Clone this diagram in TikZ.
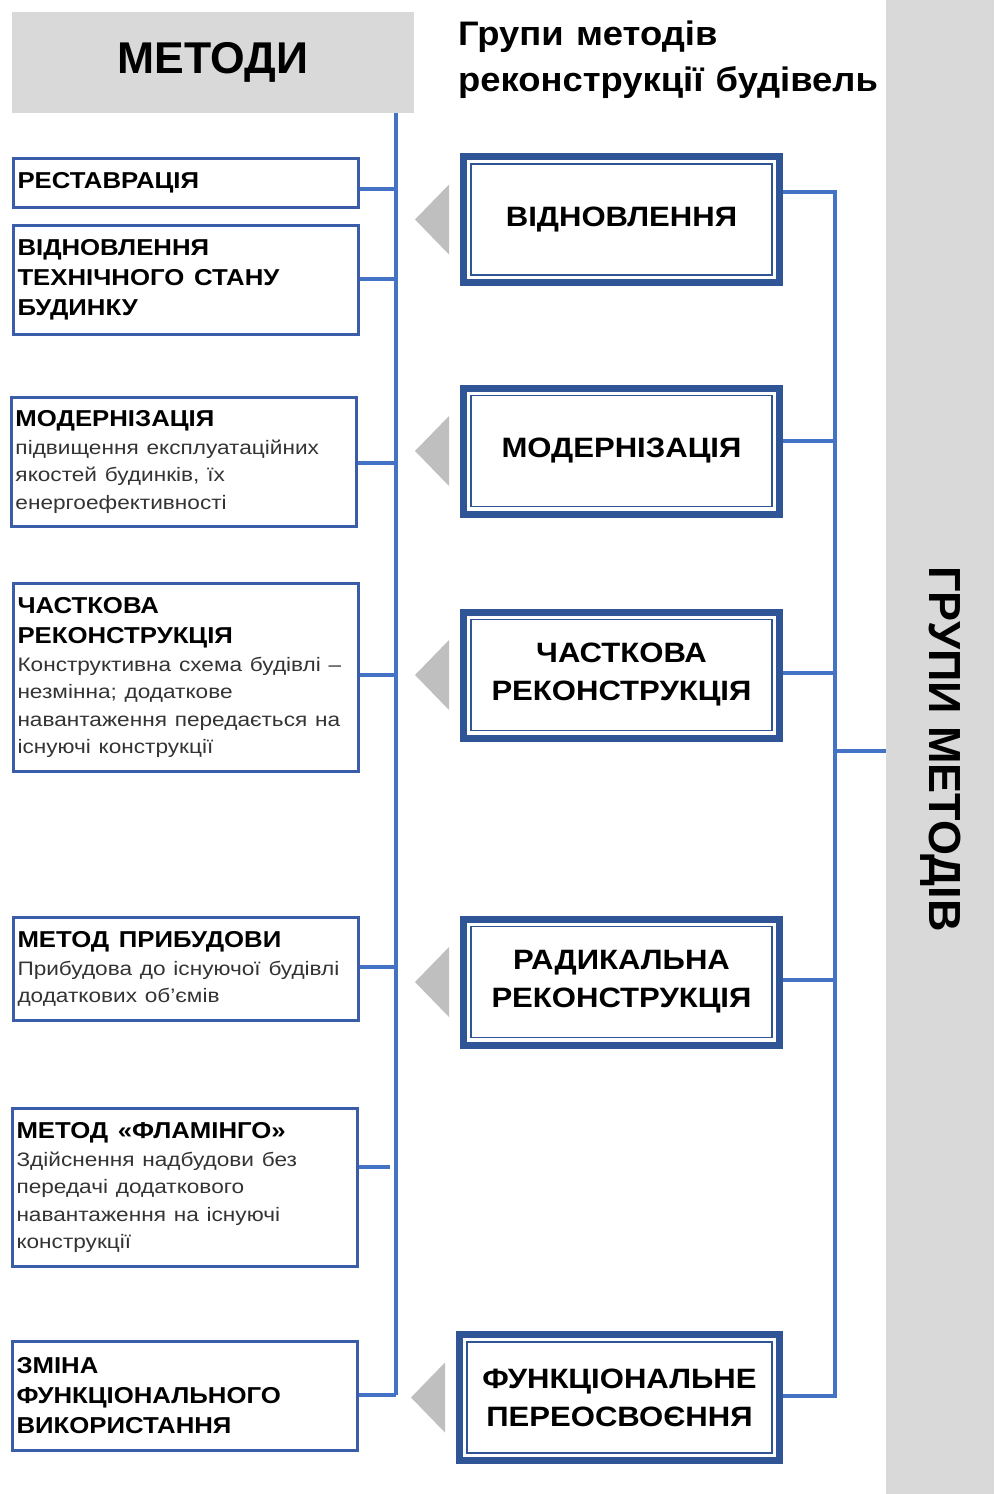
\documentclass[tikz,border=0pt]{standalone}
\usepackage{fontspec}
\setmainfont{Liberation Sans}
\newfontfamily\fsTitle{Liberation Sans}[FakeStretch=1.12]
\newfontfamily\fsDesc{Liberation Sans}[FakeStretch=1.16]
\newfontfamily\fsRight{Liberation Sans}[FakeStretch=1.11]
\newfontfamily\fsHead{Liberation Sans}[FakeStretch=1.07]
\definecolor{gbox}{HTML}{D9D9D9}
\definecolor{conncol}{HTML}{4472C4}
\definecolor{lblue}{HTML}{3B5CA8}
\definecolor{dblue}{HTML}{2F5597}
\definecolor{tricol}{HTML}{BFBFBF}
\definecolor{desccol}{HTML}{333333}
\newcommand{\tfont}{\fsTitle\fontsize{23}{30}\selectfont\bfseries\color{black}\spaceskip=0.42em plus 0.1em\relax}
\newcommand{\dfont}{\fsDesc\fontsize{19.5}{27.5}\selectfont\mdseries\color{desccol}\spaceskip=0.4em plus 0.1em\relax}
\newcommand{\hfont}{\fsHead\fontsize{34}{46}\selectfont\bfseries\spaceskip=0.36em\relax}
\begin{document}
\begin{tikzpicture}[x=1pt,y=-1pt,
  lbox/.style={draw=lblue, line width=3pt, text width=336pt, inner xsep=4.5pt, inner ysep=0pt, align=left},
  rbox/.style={draw=dblue, line width=7pt, minimum width=316pt, minimum height=126pt, inner sep=0pt, align=center, font=\fsRight\fontsize{28}{38}\selectfont\bfseries},
  conn/.style={draw=conncol, line width=3.5pt},
  tri/.style={fill=tricol, draw=none}
]
\useasboundingbox (0,0) rectangle (994,1494);

% header boxes
\node[fill=gbox, minimum width=402pt, minimum height=101pt, inner sep=0pt, font=\fontsize{44.5}{50}\selectfont\bfseries] (metody) at (213,62.5) {МЕТОДИ};
\node[anchor=base west, inner sep=0pt] (title1) at (458,45) {\hfont Групи методів};
\node[anchor=base west, inner sep=0pt] (title2) at (458,91) {\hfont реконструкції будівель};

\node[fill=gbox, minimum width=108pt, minimum height=1494pt, inner sep=0pt] (band) at (940,747) {};
\node[rotate=-90, inner sep=0pt, font=\fontsize{45}{50}\selectfont\bfseries] (bandtext) at (941,749) {ГРУПИ МЕТОДІВ};

% left boxes
\node[lbox, minimum height=49pt] (l1) at (185.5,183) {{\tfont РЕСТАВРАЦІЯ\par}};
\node[lbox, minimum height=109pt] (l2) at (185.5,280) {{\tfont ВІДНОВЛЕННЯ\\ТЕХНІЧНОГО СТАНУ\\БУДИНКУ\par}};
\node[lbox, minimum height=129pt] (l3) at (183.5,462) {{\tfont МОДЕРНІЗАЦІЯ\par}{\dfont підвищення експлуатаційних\\якостей будинків, їх\\енергоефективності\par}};
\node[lbox, minimum height=188pt] (l4) at (185.5,677.5) {{\tfont ЧАСТКОВА\\РЕКОНСТРУКЦІЯ\par}{\dfont Конструктивна схема будівлі –\\незмінна; додаткове\\навантаження передається на\\існуючі конструкції\par}};
\node[lbox, minimum height=103pt] (l5) at (185.5,969) {{\tfont МЕТОД ПРИБУДОВИ\par}{\dfont Прибудова до існуючої будівлі\\додаткових об’ємів\par}};
\node[lbox, minimum height=158pt] (l6) at (184.5,1187.5) {{\tfont МЕТОД «ФЛАМІНГО»\par}{\dfont Здійснення надбудови без\\передачі додаткового\\навантаження на існуючі\\конструкції\par}};
\node[lbox, minimum height=109pt] (l7) at (184.5,1396) {{\tfont ЗМІНА\\ФУНКЦІОНАЛЬНОГО\\ВИКОРИСТАННЯ\par}};

% right boxes
\node[rbox] (r1) at (621.5,219.5) {ВІДНОВЛЕННЯ};
\node[rbox] (r2) at (621.5,451) {МОДЕРНІЗАЦІЯ};
\node[rbox] (r3) at (621.5,675) {ЧАСТКОВА\\РЕКОНСТРУКЦІЯ};
\node[rbox] (r4) at (621.5,982) {РАДИКАЛЬНА\\РЕКОНСТРУКЦІЯ};
\node[rbox, minimum width=320pt] (r5) at (619.5,1397.5) {ФУНКЦІОНАЛЬНЕ\\ПЕРЕОСВОЄННЯ};

\foreach \n in {r1,r2,r3,r4,r5}{
  \draw[dblue, line width=1.6pt] ([shift={(11,11)}]\n.north west) rectangle ([shift={(-11,-11)}]\n.south east);
  \fill[tri] ([shift={(-11,-35)}]\n.west) -- ([shift={(-45,0)}]\n.west) -- ([shift={(-11,35)}]\n.west) -- cycle;
}

% left trunk
\coordinate (vtop) at (396,113);
\coordinate (j1) at (396,189);
\coordinate (j2) at (396,279);
\coordinate (j3) at (396,463);
\coordinate (j4) at (396,675);
\coordinate (j5) at (396,967);
\coordinate (j6) at (390,1167);
\coordinate (j7) at (396,1395);
\draw[conn] (vtop) -- (j7);
\foreach \i in {1,...,7}{
  \draw[conn] (l\i.east |- j\i) -- (j\i);
}

% right trunk
\coordinate (k1) at (835,192);
\coordinate (k2) at (835,441);
\coordinate (k3) at (835,673);
\coordinate (k4) at (835,980);
\coordinate (k5) at (835,1396);
\coordinate (kb) at (835,751);
\draw[conn] (r1.east |- k1) -- (k1) -- (k5) -- (r5.east |- k5);
\draw[conn] (r2.east |- k2) -- (k2);
\draw[conn] (r3.east |- k3) -- (k3);
\draw[conn] (r4.east |- k4) -- (k4);
\draw[conn] (kb) -- (band.west |- kb);
\end{tikzpicture}
\end{document}
